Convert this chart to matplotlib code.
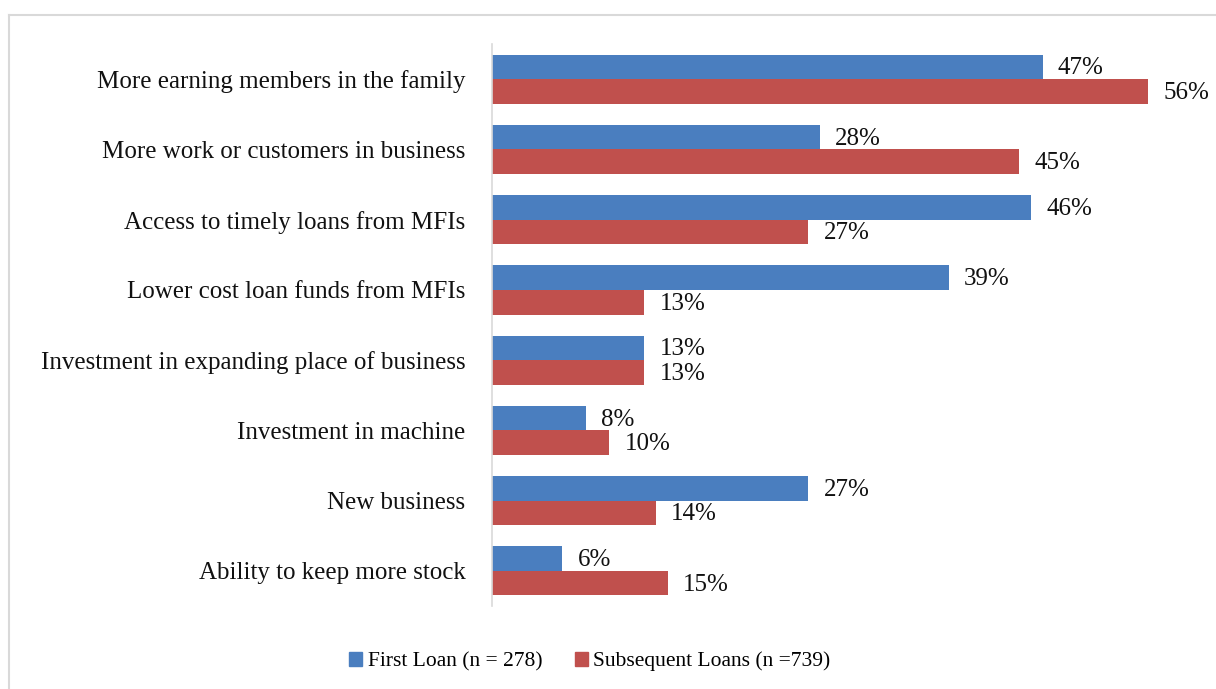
import matplotlib
matplotlib.use("Agg")
import matplotlib.pyplot as plt
from matplotlib.lines import Line2D
from matplotlib.patches import Patch
import numpy as np

categories = [
    "More earning members in the family",
    "More work or customers in business",
    "Access to timely loans from MFIs",
    "Lower cost loan funds from MFIs",
    "Investment in expanding place of business",
    "Investment in machine",
    "New business",
    "Ability to keep more stock",
]
first_loan = [47, 28, 46, 39, 13, 8, 27, 6]
subsequent = [56, 45, 27, 13, 13, 10, 14, 15]
series_names = ["First Loan (n = 278)", "Subsequent Loans (n =739)"]

BLUE = "#4A7EBF"
RED = "#C0504D"
FONT = "Liberation Serif"

plt.rcParams["font.family"] = FONT

fig = plt.figure(figsize=(12.16, 6.89), dpi=100)
ax = fig.add_axes([0.4046, 0.1205, 0.578, 0.8155])

y = np.arange(len(categories))
h = 0.35
b1 = ax.barh(y - h / 2, first_loan, h, color=BLUE)
b2 = ax.barh(y + h / 2, subsequent, h, color=RED)

for bars, vals in ((b1, first_loan), (b2, subsequent)):
    for b, v in zip(bars, vals):
        ax.text(b.get_width() + 1.3, b.get_y() + b.get_height() / 2 + 0.02, f"{v}%",
                va="center", ha="left", fontsize=18, color="#111111")

ax.set_ylim(len(categories) - 0.5, -0.5)
ax.set_xlim(0, 60)
ax.set_yticks(y)
ax.set_yticklabels(categories, fontsize=18, color="#111111")
ax.tick_params(axis="y", length=0, pad=19)
ax.set_xticks([])
for s in ("top", "right", "bottom"):
    ax.spines[s].set_visible(False)
ax.spines["left"].set_color("#D9D9D9")
ax.spines["left"].set_linewidth(1.2)

handles = [Patch(color=BLUE), Patch(color=RED)]
fig.legend(handles, series_names, loc="center", bbox_to_anchor=(0.485, 0.04),
           ncol=2, frameon=False, fontsize=15.5, handlelength=0.6, handleheight=0.6,
           handletextpad=0.25, columnspacing=1.5)

# light outer frame
fig.add_artist(Line2D([9 / 1216, 9 / 1216], [0, 1 - 15 / 689], color="#D9D9D9", lw=1.5))
fig.add_artist(Line2D([9 / 1216, 1], [1 - 15 / 689, 1 - 15 / 689], color="#D9D9D9", lw=1.5))

fig.savefig("out.png", dpi=100)
